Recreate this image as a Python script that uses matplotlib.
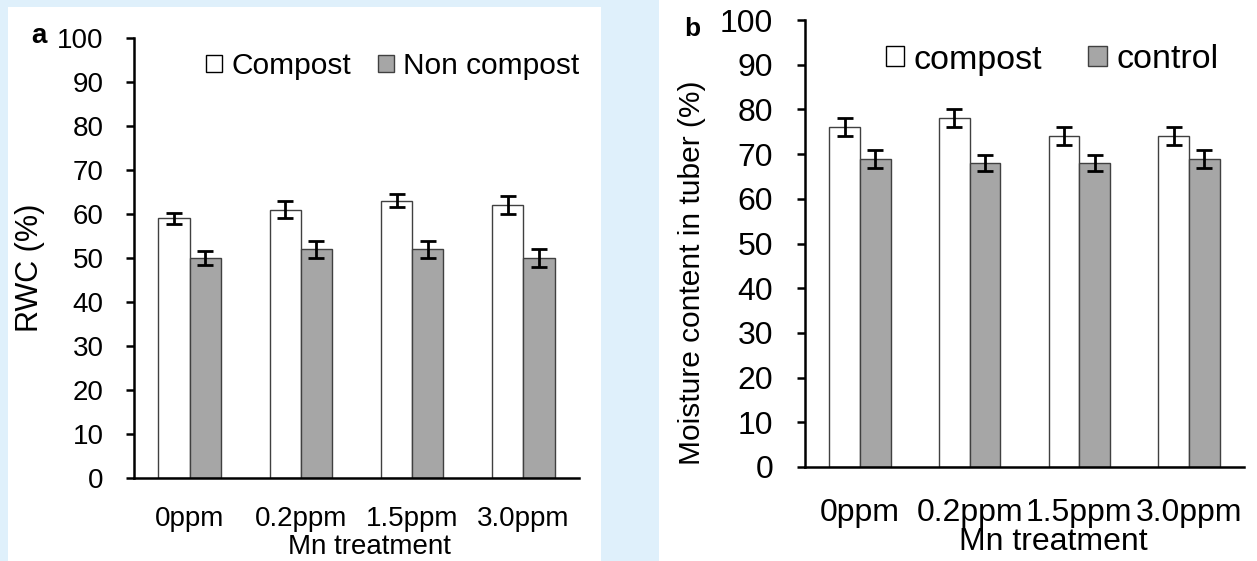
import numpy as np
import matplotlib
matplotlib.use("Agg")
import matplotlib.pyplot as plt
from matplotlib.patches import Rectangle, Patch

plt.rcParams['font.family'] = ['Liberation Sans', 'DejaVu Sans']

# data
doses = ["0ppm", "0.2ppm", "1.5ppm", "3.0ppm"]

rwc_compost = [59, 61, 63, 62]
rwc_compost_err = [1.2, 2.0, 1.5, 2.0]
rwc_non = [50, 52, 52, 50]
rwc_non_err = [1.7, 1.9, 1.9, 2.0]

moist_compost = [76, 78, 74, 74]
moist_compost_err = [2.0, 2.0, 2.0, 2.0]
moist_control = [69, 68, 68, 69]
moist_control_err = [2.0, 1.8, 1.8, 2.0]

W, H = 1257, 561
bg = '#dff0fb'
grey = '#a6a6a6'
edge = '#404040'

fig = plt.figure(figsize=(W / 100, H / 100), dpi=100, facecolor=bg)

# white panels behind each chart
fig.add_artist(Rectangle((8 / W, 0), 593 / W, 1 - 7 / H, transform=fig.transFigure,
                         facecolor='white', edgecolor='none', zorder=-10))
fig.add_artist(Rectangle((659 / W, 0), 1 - 659 / W, 1, transform=fig.transFigure,
                         facecolor='white', edgecolor='none', zorder=-10))


def panel(rect, s1, e1, s2, e2, fs, ypad, xpad):
    ax = fig.add_axes(rect)
    ax.patch.set_alpha(0)
    x = np.arange(len(doses))
    w = 0.28
    ekw = dict(elinewidth=2, capthick=2, ecolor='black')
    ax.bar(x - w / 2, s1, w, color='white', edgecolor=edge, linewidth=1,
           yerr=e1, capsize=6, error_kw=ekw)
    ax.bar(x + w / 2, s2, w, color=grey, edgecolor=edge, linewidth=1,
           yerr=e2, capsize=6, error_kw=ekw)
    ax.set_xlim(-0.5, 3.5)
    ax.set_ylim(0, 100)
    ax.set_yticks(range(0, 101, 10))
    ax.set_xticks(x)
    ax.set_xticklabels(doses)
    for s in ['top', 'right']:
        ax.spines[s].set_visible(False)
    for s in ['left', 'bottom']:
        ax.spines[s].set_linewidth(1.8)
        ax.spines[s].set_color('black')
    ax.tick_params(axis='y', direction='out', length=6, width=1.8, labelsize=fs, pad=ypad)
    ax.tick_params(axis='x', length=0, labelsize=fs, pad=xpad)
    return ax


# panel a
ax1 = panel([134 / W, 1 - 478 / H, 445 / W, 440 / H],
            rwc_compost, rwc_compost_err, rwc_non, rwc_non_err, 20, 16, 20)
ax1.set_ylabel("RWC (%)", fontsize=22)
ax1.yaxis.set_label_coords(-0.2, 0.477)
ax1.set_xlabel("Mn treatment", fontsize=20)
ax1.xaxis.set_label_coords(0.53, -0.128)
ax1.legend(handles=[Patch(facecolor='white', edgecolor='black', label='Compost'),
                    Patch(facecolor=grey, edgecolor=edge, label='Non compost')],
           loc='center left', bbox_to_anchor=(206 / W, 1 - 66 / H),
           bbox_transform=fig.transFigure, ncol=2, frameon=False, fontsize=21.5,
           handlelength=0.54, handleheight=0.54, handletextpad=0.3,
           columnspacing=0.9, borderpad=0, borderaxespad=0)
fig.text(31 / W, 1 - 43 / H, "a", fontsize=20, fontweight='bold', ha='left', va='baseline')

# panel b
ax2 = panel([805 / W, 1 - 467 / H, 439 / W, 447 / H],
            moist_compost, moist_compost_err, moist_control, moist_control_err, 23, 17, 22)
ax2.set_ylabel("Moisture content in tuber (%)", fontsize=21.5)
ax2.yaxis.set_label_coords(-0.2255, 0.435)
ax2.set_xlabel("Mn treatment", fontsize=23)
ax2.xaxis.set_label_coords(0.565, -0.135)
ax2.legend(handles=[Patch(facecolor='white', edgecolor='black', label='compost'),
                    Patch(facecolor=grey, edgecolor=edge, label='control')],
           loc='center left', bbox_to_anchor=(886 / W, 1 - 60 / H),
           bbox_transform=fig.transFigure, ncol=2, frameon=False, fontsize=24.5,
           handlelength=0.53, handleheight=0.53, handletextpad=0.29,
           columnspacing=1.35, borderpad=0, borderaxespad=0)
fig.text(684 / W, 1 - 36 / H, "b", fontsize=19, fontweight='bold', ha='left', va='baseline')

plt.savefig("out.png", dpi=100, facecolor=bg)
